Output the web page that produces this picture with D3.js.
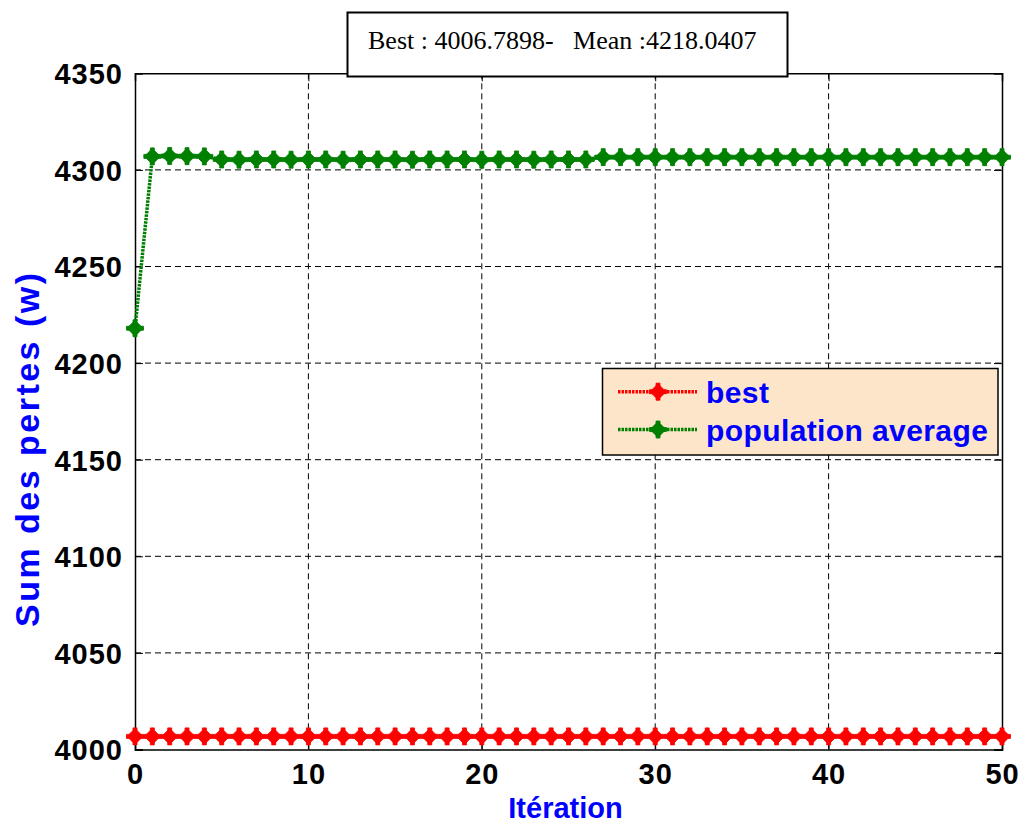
<!DOCTYPE html>
<html>
<head>
<meta charset="utf-8">
<script src="https://cdn.jsdelivr.net/npm/d3@7"></script>
<style>
  html, body { margin: 0; padding: 0; background: #fff; }
  svg { display: block; }
</style>
</head>
<body>
<svg id="chart" width="1023" height="826"></svg>
<script>
// Iteration index of each recorded generation
const iterations = [0,1,2,3,4,5,6,7,8,9,10,11,12,13,14,15,16,17,18,19,20,
  21,22,23,24,25,26,27,28,29,30,31,32,33,34,35,36,37,38,39,40,
  41,42,43,44,45,46,47,48,49,50];

// Best individual losses per iteration
const bestValues = [4006.7898,4006.7898,4006.7898,4006.7898,4006.7898,4006.7898,4006.7898,
  4006.7898,4006.7898,4006.7898,4006.7898,4006.7898,4006.7898,4006.7898,4006.7898,
  4006.7898,4006.7898,4006.7898,4006.7898,4006.7898,4006.7898,4006.7898,4006.7898,
  4006.7898,4006.7898,4006.7898,4006.7898,4006.7898,4006.7898,4006.7898,4006.7898,
  4006.7898,4006.7898,4006.7898,4006.7898,4006.7898,4006.7898,4006.7898,4006.7898,
  4006.7898,4006.7898,4006.7898,4006.7898,4006.7898,4006.7898,4006.7898,4006.7898,
  4006.7898,4006.7898,4006.7898,4006.7898];

// Population average losses per iteration
const meanValues = [4218.0407,
  4307.0,4307.2,4307.1,4307.0,
  4305.4,4305.3,4305.4,4305.4,4305.3,4305.4,4305.4,4305.3,4305.4,4305.4,4305.4,
  4305.3,4305.4,4305.4,4305.4,4305.3,4305.4,4305.4,4305.3,4305.4,4305.4,4305.4,
  4306.6,4306.6,4306.6,4306.6,4306.6,4306.6,4306.6,4306.6,4306.6,4306.6,4306.6,4306.6,
  4306.6,4306.6,4306.6,4306.6,4306.6,4306.6,4306.6,4306.6,4306.6,4306.6,4306.6,4306.6];

const xTicks = [0,10,20,30,40,50];
const yTicks = [4000,4050,4100,4150,4200,4250,4300,4350];
const seriesNames = ["best","population average"];
const titleText = "Best : 4006.7898-   Mean :4218.0407";
const xLabel = "Itération";
const yLabel = "Sum des pertes (w)";

const svg = d3.select("#chart");
const plotLeft = 135, plotRight = 1002, plotTop = 73.3, plotBottom = 749.5;

const x = d3.scaleLinear().domain([0, 50]).range([plotLeft, plotRight]);
const y = d3.scaleLinear().domain([4000, 4350]).range([plotBottom, plotTop]);

// Dashed grid
const grid = svg.append("g").attr("stroke", "#000").attr("stroke-width", 1)
  .attr("stroke-dasharray", "6,4");
grid.selectAll("line.gx").data(xTicks.slice(1, -1)).join("line")
  .attr("x1", d => x(d)).attr("x2", d => x(d)).attr("y1", plotTop).attr("y2", plotBottom);
grid.selectAll("line.gy").data(yTicks.slice(1, -1)).join("line")
  .attr("x1", plotLeft).attr("x2", plotRight).attr("y1", d => y(d)).attr("y2", d => y(d));

// Axes with inward ticks
const fontTick = "bold 29px 'Liberation Sans', Arial, sans-serif";
const xAxis = svg.append("g").attr("transform", `translate(0,${plotBottom})`)
  .call(d3.axisBottom(x).tickValues(xTicks).tickSize(-8).tickPadding(14).tickFormat(d3.format("d")));
const yAxis = svg.append("g").attr("transform", `translate(${plotLeft},0)`)
  .call(d3.axisLeft(y).tickValues(yTicks).tickSize(-8).tickPadding(12).tickFormat(d3.format("d")));
const xAxisTop = svg.append("g").attr("transform", `translate(0,${plotTop})`)
  .call(d3.axisTop(x).tickValues(xTicks).tickSize(-8).tickFormat(""));
const yAxisRight = svg.append("g").attr("transform", `translate(${plotRight},0)`)
  .call(d3.axisRight(y).tickValues(yTicks).tickSize(-8).tickFormat(""));
[xAxis, yAxis, xAxisTop, yAxisRight].forEach(g => {
  g.select(".domain").attr("stroke", "#000").attr("stroke-width", 1.5);
  g.selectAll(".tick line").attr("stroke", "#000").attr("stroke-width", 1);
  g.selectAll(".tick text").style("font", fontTick).attr("fill", "#000")
    .attr("letter-spacing", "1px");
});
xAxis.selectAll(".tick text").attr("dy", "0.71em");
yAxis.selectAll(".tick text").attr("dy", "0.36em");

// Marker: diamond with cross arms
const markerPath = "M0,-8.5 L2,-6 L6,-2 L8.5,0 L6,2 L2,6 L0,8.5 L-2,6 L-6,2 L-8.5,0 L-6,-2 L-2,-6 Z " +
  "M-2,-8.5 H2 V8.5 H-2 Z M-8.5,-2 H8.5 V2 H-8.5 Z";

function drawSeries(values, color) {
  const pts = iterations.map((it, i) => [it, values[i]]);
  const line = d3.line().x(d => x(d[0])).y(d => y(d[1]));
  svg.append("path").datum(pts).attr("d", line).attr("fill", "none")
    .attr("stroke", color).attr("stroke-width", 3.5).attr("stroke-dasharray", "2.5,1");
  svg.append("g").selectAll("path").data(pts).join("path")
    .attr("transform", d => `translate(${x(d[0])},${y(d[1])})`)
    .attr("d", markerPath).attr("fill", color).attr("stroke", color)
    .attr("stroke-width", 0.8).attr("stroke-linejoin", "round");
}
drawSeries(bestValues, "#ff0000");
drawSeries(meanValues, "#008000");

// Legend
const legend = svg.append("g");
legend.append("rect").attr("x", 602.5).attr("y", 368.5).attr("width", 395.5).attr("height", 86.5)
  .attr("fill", "#fce5c8").attr("stroke", "#000").attr("stroke-width", 1.5);
const legendColors = ["#ff0000", "#008000"];
const legendRows = [391.7, 429.5];
seriesNames.forEach((name, i) => {
  const yy = legendRows[i];
  legend.append("line").attr("x1", 618).attr("x2", 697).attr("y1", yy).attr("y2", yy)
    .attr("stroke", legendColors[i]).attr("stroke-width", 3.5).attr("stroke-dasharray", "2.5,1");
  legend.append("path").attr("transform", `translate(658,${yy})`).attr("d", markerPath)
    .attr("fill", legendColors[i]).attr("stroke", legendColors[i]).attr("stroke-width", 0.8);
  legend.append("text").attr("x", 706).attr("y", yy + 11)
    .style("font", "bold 30px 'Liberation Sans', Arial, sans-serif").attr("fill", "#0000ff")
    .attr("letter-spacing", "0.4px")
    .text(name);
});

// Title box
svg.append("rect").attr("x", 347.5).attr("y", 12.5).attr("width", 440).attr("height", 64)
  .attr("fill", "#fff").attr("stroke", "#000").attr("stroke-width", 2);
svg.append("text").attr("x", 368).attr("y", 48.5)
  .style("font", "26px 'Liberation Serif', 'Times New Roman', serif").style("white-space", "pre")
  .attr("fill", "#000").text(titleText);

// Axis labels
svg.append("text").attr("x", 565.5).attr("y", 818).attr("text-anchor", "middle")
  .style("font", "bold 29px 'Liberation Sans', Arial, sans-serif").attr("fill", "#0000ff")
  .text(xLabel);
svg.append("text").attr("transform", "translate(39,450) rotate(-90)").attr("text-anchor", "middle")
  .style("font", "bold 34px 'Liberation Sans', Arial, sans-serif").attr("fill", "#0000ff")
  .attr("textLength", 354).attr("lengthAdjust", "spacing")
  .text(yLabel);
</script>
</body>
</html>
